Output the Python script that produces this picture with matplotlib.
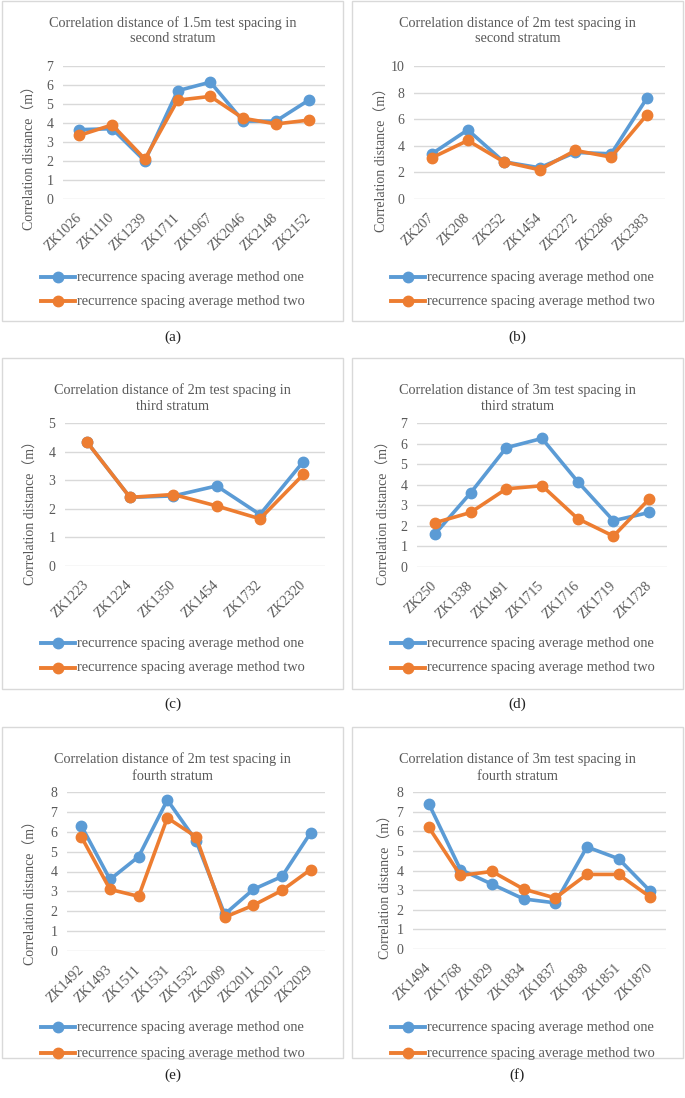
import matplotlib
matplotlib.use('Agg')
import matplotlib.pyplot as plt
from matplotlib.patches import Rectangle
from matplotlib.lines import Line2D

# ---------------- data ----------------
a_cats = ['ZK1026', 'ZK1110', 'ZK1239', 'ZK1711', 'ZK1967', 'ZK2046', 'ZK2148', 'ZK2152']
a_one = [3.65, 3.7, 2.0, 5.7, 6.15, 4.1, 4.1, 5.2]
a_two = [3.35, 3.9, 2.1, 5.2, 5.4, 4.25, 3.95, 4.15]

b_cats = ['ZK207', 'ZK208', 'ZK252', 'ZK1454', 'ZK2272', 'ZK2286', 'ZK2383']
b_one = [3.4, 5.2, 2.8, 2.35, 3.5, 3.4, 7.6]
b_two = [3.1, 4.4, 2.8, 2.2, 3.65, 3.15, 6.35]

c_cats = ['ZK1223', 'ZK1224', 'ZK1350', 'ZK1454', 'ZK1732', 'ZK2320']
c_one = [4.35, 2.4, 2.45, 2.8, 1.8, 3.65]
c_two = [4.35, 2.4, 2.5, 2.1, 1.65, 3.2]

d_cats = ['ZK250', 'ZK1338', 'ZK1491', 'ZK1715', 'ZK1716', 'ZK1719', 'ZK1728']
d_one = [1.6, 3.6, 5.8, 6.25, 4.15, 2.25, 2.65]
d_two = [2.15, 2.65, 3.8, 3.95, 2.35, 1.5, 3.3]

e_cats = ['ZK1492', 'ZK1493', 'ZK1511', 'ZK1531', 'ZK1532', 'ZK2009', 'ZK2011', 'ZK2012', 'ZK2029']
e_one = [6.3, 3.6, 4.75, 7.6, 5.55, 1.85, 3.1, 3.75, 5.95]
e_two = [5.75, 3.1, 2.75, 6.7, 5.75, 1.7, 2.3, 3.05, 4.1]

f_cats = ['ZK1494', 'ZK1768', 'ZK1829', 'ZK1834', 'ZK1837', 'ZK1838', 'ZK1851', 'ZK1870']
f_one = [7.4, 4.05, 3.3, 2.55, 2.35, 5.2, 4.6, 2.95]
f_two = [6.2, 3.75, 3.95, 3.05, 2.6, 3.8, 3.8, 2.65]

titles = [
    ('Correlation distance of 1.5m test spacing in', 'second stratum'),
    ('Correlation distance of 2m test spacing in', 'second stratum'),
    ('Correlation distance of 2m test spacing in', 'third stratum'),
    ('Correlation distance of 3m test spacing in', 'third stratum'),
    ('Correlation distance of 2m test spacing in', 'fourth stratum'),
    ('Correlation distance of 3m test spacing in', 'fourth stratum'),
]
panel_labels = ['(a)', '(b)', '(c)', '(d)', '(e)', '(f)']
y_maxes = [7, 10, 5, 7, 8, 8]
y_steps = [1, 2, 1, 1, 1, 1]
series_names = ['recurrence spacing average method one', 'recurrence spacing average method two']
ylabel_text = 'Correlation distance\uff08m\uff09'

# ---------------- layout (pixels) ----------------
W, H = 685, 1098
fig = plt.figure(figsize=(W / 100, H / 100), dpi=100)
fig.patch.set_facecolor('white')

def fx(x):
    return x / W

def fy(y):
    return 1 - y / H

BLUE = '#5B9BD5'
ORANGE = '#ED7D31'
GRID = '#D9D9D9'
TXT = '#595959'
SERIF = ['Liberation Serif', 'Noto Sans CJK SC']

boxes = [(2, 1, 343, 321), (352, 1, 683, 321),
         (2, 358, 343, 689), (352, 358, 683, 689),
         (2, 727, 343, 1058), (352, 727, 683, 1058)]
axes_px = [(63, 66, 325, 199), (414, 66, 665, 199),
           (65, 423, 325, 566), (417, 423, 667, 567),
           (67, 792, 325, 951), (413, 792, 666, 949)]
title_y = [(23, 39), (23, 39), (390, 406), (390, 406), (759, 776), (759, 776)]
ylabel_pos = [(30, 155), (382, 157), (31, 510), (384, 510), (31, 890), (386, 884)]
legend_y = [(277, 301), (277, 301), (643, 668), (643, 668), (1027, 1053), (1027, 1053)]
label_y = [337, 337, 704, 704, 1075, 1075]

data = [(a_cats, a_one, a_two), (b_cats, b_one, b_two), (c_cats, c_one, c_two),
        (d_cats, d_one, d_two), (e_cats, e_one, e_two), (f_cats, f_one, f_two)]

LW = 2.6
MS = 7.5

for i, (cats, one, two) in enumerate(data):
    x0, y0, x1, y1 = boxes[i]
    fig.add_artist(Rectangle((fx(x0), fy(y1)), fx(x1) - fx(x0), fy(y0) - fy(y1),
                             transform=fig.transFigure, fill=False,
                             edgecolor=GRID, lw=1.0))
    L, T, R, B = axes_px[i]
    ax = fig.add_axes([fx(L), fy(B), fx(R) - fx(L), fy(T) - fy(B)])
    ax.set_facecolor('none')
    xs = list(range(len(cats)))
    ax.plot(xs, one, color=BLUE, lw=LW, marker='o', ms=MS, clip_on=False, zorder=3)
    ax.plot(xs, two, color=ORANGE, lw=LW, marker='o', ms=MS, clip_on=False, zorder=4)
    ax.set_xlim(-0.5, len(cats) - 0.5)
    ax.set_ylim(0, y_maxes[i])
    ax.set_yticks(list(range(0, y_maxes[i] + 1, y_steps[i])))
    ax.set_xticks(xs)
    ax.set_xticklabels(cats, rotation=45, ha='right', va='center',
                       rotation_mode='anchor', family=SERIF, fontsize=10, color=TXT)
    for lab in ax.get_yticklabels():
        lab.set_family(SERIF)
        lab.set_fontsize(10)
        lab.set_color(TXT)
    ax.tick_params(axis='both', length=0)
    ax.tick_params(axis='y', pad=7)
    ax.tick_params(axis='x', pad=12)
    for s in ax.spines.values():
        s.set_visible(False)
    ax.grid(axis='y', color=GRID, lw=1.0)
    ax.set_axisbelow(True)

    cx = (x0 + x1) / 2
    fig.text(fx(cx), fy(title_y[i][0]), titles[i][0], ha='center', va='center',
             family=SERIF, fontsize=10.3, color=TXT)
    fig.text(fx(cx), fy(title_y[i][1]), titles[i][1], ha='center', va='center',
             family=SERIF, fontsize=10.3, color=TXT)
    lx, ly = ylabel_pos[i]
    fig.text(fx(lx), fy(ly), ylabel_text, rotation=90, ha='center', va='center',
             family=SERIF, fontsize=10, color=TXT)

    # legend
    hx0 = x0 + 39
    hx1 = x0 + 73
    for j, (col, name) in enumerate(zip([BLUE, ORANGE], series_names)):
        yy = legend_y[i][j]
        fig.add_artist(Line2D([fx(hx0), fx((hx0 + hx1) / 2), fx(hx1)],
                              [fy(yy)] * 3, transform=fig.transFigure,
                              color=col, lw=LW + 0.2, marker='o', ms=MS, markevery=[1]))
        fig.text(fx(hx1 + 2), fy(yy), name, ha='left', va='center',
                 family=SERIF, fontsize=10.4, color=TXT)

    fig.text(fx(cx), fy(label_y[i]), panel_labels[i], ha='center', va='center',
             family=SERIF, fontsize=11, color='#222222')

fig.savefig('out.png', dpi=100, facecolor='white')
